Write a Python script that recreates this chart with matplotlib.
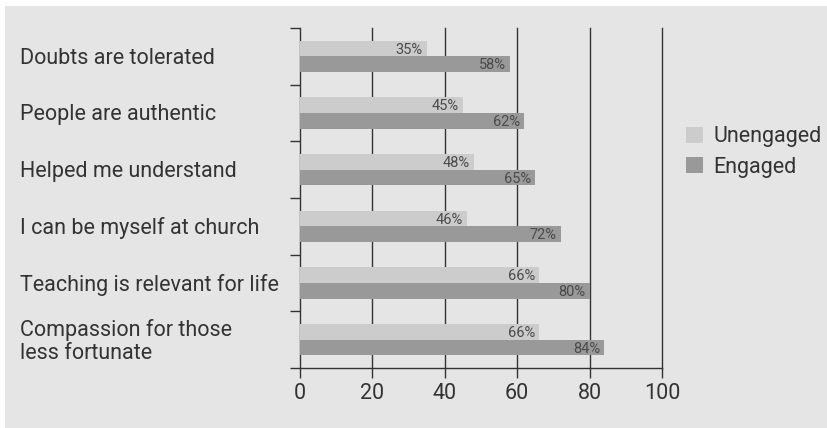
import matplotlib.pyplot as plt
from matplotlib.patches import Rectangle
from matplotlib.transforms import blended_transform_factory
import numpy as np

categories = [
    "Doubts are tolerated",
    "People are authentic",
    "Helped me understand",
    "I can be myself at church",
    "Teaching is relevant for life",
    "Compassion for those\nless fortunate",
]
unengaged = [35, 45, 48, 46, 66, 66]
engaged = [58, 62, 65, 72, 80, 84]
series_names = ["Unengaged", "Engaged"]
x_ticks = [0, 20, 40, 60, 80, 100]

BG = "#e5e5e5"
C_UNENG = "#cccccc"
C_ENG = "#999999"
INK = "#333333"
TXT = "#333333"

plt.rcParams["font.family"] = ["Roboto", "DejaVu Sans"]

W, H = 827, 428
fig = plt.figure(figsize=(W / 100, H / 100), dpi=100)
fig.patch.set_facecolor("white")
fig.patches.append(Rectangle((5 / W, 0), 1, 1 - 6 / H, transform=fig.transFigure,
                             facecolor=BG, edgecolor="none", zorder=-10))

ax = fig.add_axes([300 / W, 1 - 368 / H, 362 / W, 340 / H])
ax.set_facecolor("none")

n = len(categories)
y = np.arange(n)
bh = 0.274

ax.barh(y - bh / 2, unengaged, height=bh, color=C_UNENG, zorder=3, label=series_names[0])
ax.barh(y + bh / 2, engaged, height=bh, color=C_ENG, zorder=3, label=series_names[1])

# value labels sit just inside the bar end
for i in range(n):
    ax.text(unengaged[i] - 1.1, y[i] - bh / 2 + 0.02, f"{unengaged[i]}%", ha="right", va="center",
            fontsize=10.5, color="#4a4a4a", zorder=4)
    ax.text(engaged[i] - 1.1, y[i] + bh / 2 + 0.02, f"{engaged[i]}%", ha="right", va="center",
            fontsize=10.5, color="#4a4a4a", zorder=4)

ax.set_xlim(0, 100)
ax.set_ylim(n - 0.5, -0.5)

# vertical grid at each x tick
for xv in x_ticks[1:]:
    ax.axvline(xv, color=INK, lw=1.0, zorder=1, clip_on=False)

ax.set_xticks(x_ticks)
ax.set_xticklabels([str(v) for v in x_ticks], fontsize=15.5, color=TXT)
ax.set_yticks(np.arange(n + 1) - 0.5)
ax.set_yticklabels([])
ax.tick_params(axis="both", direction="out", length=7, width=1.0, color=INK)
ax.tick_params(axis="x", pad=4)

for side in ["top", "right"]:
    ax.spines[side].set_visible(False)
for side in ["left", "bottom"]:
    ax.spines[side].set_color(INK)
    ax.spines[side].set_linewidth(1.0)

# category labels, left aligned
tr = blended_transform_factory(fig.transFigure, ax.transData)
for i, cat in enumerate(categories):
    ax.text(20 / W, y[i] + 0.03, cat, transform=tr, ha="left", va="center",
            fontsize=15.5, color=TXT, linespacing=1.15)

handles, labels = ax.get_legend_handles_labels()
fig.legend(handles, labels, loc="center left", bbox_to_anchor=(686 / W, 1 - 152 / H),
           frameon=False, fontsize=15.5, handlelength=0.78, handleheight=0.78,
           handletextpad=0.5, labelspacing=0.42, borderpad=0, borderaxespad=0,
           labelcolor=TXT)

fig.savefig("out.png", dpi=100, facecolor=fig.get_facecolor())
